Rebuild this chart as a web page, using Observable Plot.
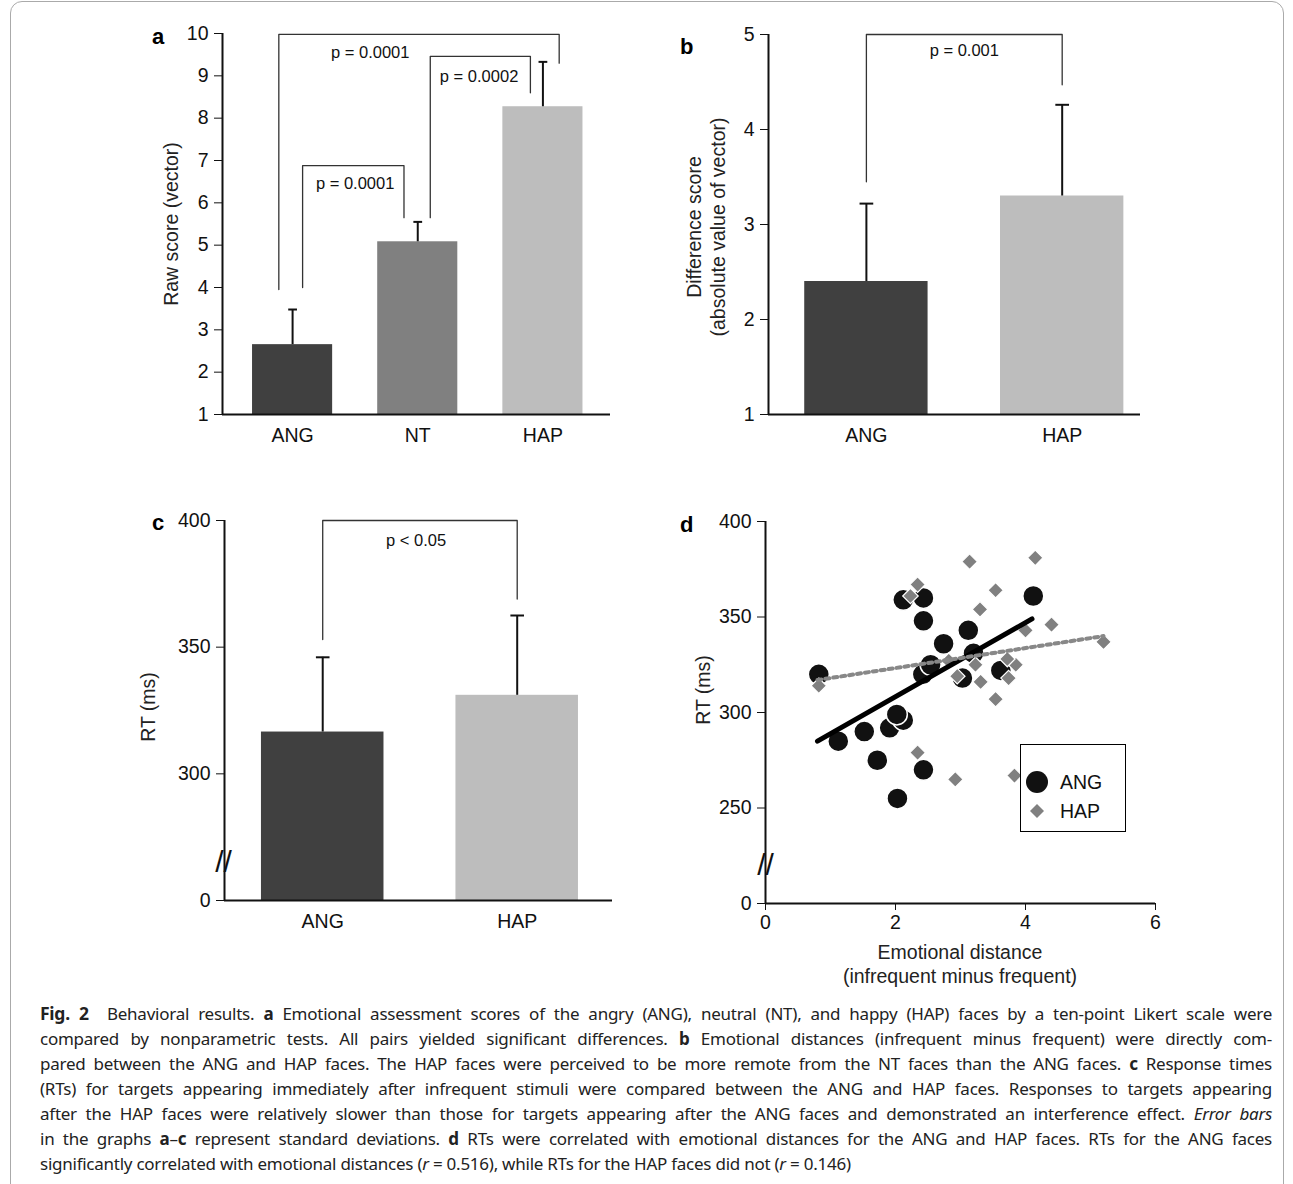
<!DOCTYPE html>
<html>
<head>
<meta charset="utf-8">
<script src="https://cdn.jsdelivr.net/npm/d3@7"></script>
<script src="https://cdn.jsdelivr.net/npm/@observablehq/plot@0.6"></script>
<style>
  body { margin: 0; background: #fff; font-family: "Liberation Sans", Arial, sans-serif; }
  #fig { position: relative; width: 1293px; height: 1184px; overflow: hidden; }
  .panel { position: absolute; }
  .panel svg [aria-label$="tick label"] { font-size: 19.5px; }
  .letter { position: absolute; font-weight: bold; font-size: 22px; }
  .lab { position: absolute; font-size: 19.5px; line-height: 24px; color: #222; text-align: center; white-space: nowrap; }
  #frame { position: absolute; left: 10px; top: 1px; width: 1272px; height: 1240px; border: 1px solid #aaa; border-radius: 12px; }
  #caption { position: absolute; left: 40px; top: 1001px; width: 1232px; font-family: "Noto Sans", sans-serif; font-size: 17px; letter-spacing: -0.25px; line-height: 25px; color: #222; }
  #caption div { text-align: justify; text-align-last: justify; white-space: nowrap; }
  #caption div.last { text-align-last: left; }
  #legend { position: absolute; left: 1020px; top: 744px; width: 104px; height: 86px; border: 1.5px solid #000; background: #fff; }
</style>
</head>
<body>
<div id="fig">
  <div id="frame"></div>
</div>
<script>
// panel a
const catsA = ["ANG", "NT", "HAP"];
const meanA = [2.65, 5.08, 8.27];
const errA = [3.48, 5.55, 9.33];
// panel b
const catsB = ["ANG", "HAP"];
const meanB = [2.4, 3.3];
const errB = [3.22, 4.26];
// panel c
const meanC = [316.5, 331];
const errC = [346, 362.5];
const fills = { ANG: "#404040", NT: "#808080", HAP: "#bdbdbd" };

// brackets: [x, y] corner points
const bracketsA = [
  { p: "p = 0.0001", pts: [[1.08, 4.0], [1.08, 6.88], [1.89, 6.88], [1.89, 5.65]], lx: 1.5, ly: 6.45 },
  { p: "p = 0.0001", pts: [[0.89, 3.95], [0.89, 9.98], [3.13, 9.98], [3.13, 9.3]], lx: 1.62, ly: 9.55 },
  { p: "p = 0.0002", pts: [[2.1, 5.65], [2.1, 9.46], [2.9, 9.46], [2.9, 8.6]], lx: 2.49, ly: 8.97 }
];
const bracketsB = [{ p: "p = 0.001", pts: [[1, 3.45], [1, 5], [2, 5], [2, 4.47]], lx: 1.5, ly: 4.83 }];
const bracketsC = [{ p: "p < 0.05", pts: [[1, 353], [1, 400], [2, 400], [2, 369]], lx: 1.48, ly: 392 }];

// panel d scatter
const angX = [2.03, 2.43, 1.72, 1.12, 1.52, 1.91, 2.12, 2.02, 0.82, 2.42, 2.54, 2.74, 3.12, 2.43, 2.12, 2.43, 4.12, 3.2, 3.03, 3.62];
const angY = [255, 270, 275, 285, 290, 292, 296, 299, 320, 320, 325, 336, 343, 348, 359, 360, 361, 331, 318, 322];
const hapX = [0.82, 2.34, 2.23, 3.14, 4.15, 3.54, 3.3, 4.4, 4.0, 2.82, 3.23, 2.95, 3.31, 3.54, 3.74, 3.85, 3.72, 2.34, 2.92, 3.83, 5.2];
const hapY = [314, 367, 361, 379, 381, 364, 354, 346, 343, 327, 325, 319, 316, 307, 318, 325, 328, 279, 265, 267, 337];
const fitAng = [[0.8, 285], [4.1, 349]];
const fitHap = [[0.8, 317], [5.2, 340]];

const fig = document.getElementById("fig");
const font = "Liberation Sans, Arial, sans-serif";
const style = { fontFamily: font, fontSize: "19px", color: "#111", background: "transparent" };

function place(el, left, top) {
  const d = document.createElement("div");
  d.className = "panel";
  d.style.left = left + "px";
  d.style.top = top + "px";
  d.append(el);
  fig.append(d);
}

function label(html, cx, cy, rotate) {
  const d = document.createElement("div");
  d.className = "lab";
  d.innerHTML = html;
  d.style.left = cx + "px";
  d.style.top = cy + "px";
  d.style.transform = `translate(-50%, -50%)${rotate ? " rotate(-90deg)" : ""}`;
  fig.append(d);
}

function barPanel({ cats, mean, err, brackets, yDomain, yTicks, yFmt, xDomain, half, w, h, m, brk }) {
  const rows = cats.map((c, i) => ({ c, i: i + 1, v: mean[i], e: err[i] }));
  const br = brackets.flatMap((b, k) => b.pts.map(([x, y]) => ({ k, x, y })));
  const marks = [
    Plot.rect(rows, { x1: d => d.i - half, x2: d => d.i + half, y1: yDomain[0], y2: "v", fill: d => fills[d.c] }),
    Plot.ruleX(rows, { x: "i", y1: "v", y2: "e", stroke: "#111", strokeWidth: 2 }),
    Plot.link(rows, { x1: d => d.i - 0.035, x2: d => d.i + 0.035, y1: "e", y2: "e", stroke: "#111", strokeWidth: 2 }),
    Plot.line(br, { x: "x", y: "y", z: "k", stroke: "#333", strokeWidth: 1.3 }),
    Plot.text(brackets, { x: "lx", y: "ly", text: "p", fontSize: 16.5, fill: "#111" }),
    Plot.ruleX([xDomain[0]], { stroke: "#111", strokeWidth: 2 }),
    Plot.ruleY([yDomain[0]], { stroke: "#111", strokeWidth: 2 }),
    Plot.axisY({ ticks: yTicks, tickFormat: yFmt || (d => String(d)), tickSize: 8, tickPadding: 6, label: null }),
    Plot.axisX({ ticks: rows.map(d => d.i), tickFormat: i => cats[i - 1], tickSize: 0, tickPadding: 14, label: null })
  ];
  if (brk != null) marks.push(Plot.text(["//"], { x: xDomain[0], y: brk, fontSize: 30, fill: "#111", dx: -1 }));
  return Plot.plot({
    width: w, height: h, marginLeft: m[0], marginRight: m[1], marginTop: m[2], marginBottom: m[3],
    style, x: { domain: xDomain }, y: { domain: yDomain }, marks
  });
}

place(barPanel({
  cats: catsA, mean: meanA, err: errA, brackets: bracketsA, yDomain: [1, 10], yTicks: d3.range(1, 11),
  xDomain: [0.44, 3.54], half: 0.32, w: 480, h: 444, m: [82, 10, 13, 50]
}), 140, 20);
label("Raw score (vector)", 171, 224, true);

place(barPanel({
  cats: catsB, mean: meanB, err: errB, brackets: bracketsB, yDomain: [1, 5], yTicks: [1, 2, 3, 4, 5],
  xDomain: [0.5, 2.4], half: 0.315, w: 520, h: 444, m: [128, 20, 14, 50]
}), 640, 20);
label("Difference score<br>(absolute value of vector)", 706, 227, true);

place(barPanel({
  cats: catsB, mean: meanC, err: errC, brackets: bracketsC, yDomain: [250, 400], yTicks: [250, 300, 350, 400],
  yFmt: d => d === 250 ? "0" : String(d), xDomain: [0.495, 2.49], half: 0.315, w: 480, h: 445, m: [84, 8, 15, 50], brk: 265
}), 140, 505);
label("RT (ms)", 148, 707, true);

// panel d
const ang = angX.map((x, i) => ({ x, y: angY[i] }));
const hap = hapX.map((x, i) => ({ x, y: hapY[i] }));
place(Plot.plot({
  width: 530, height: 483, marginLeft: 125, marginRight: 15, marginTop: 16, marginBottom: 85,
  style, x: { domain: [0, 6] }, y: { domain: [200, 400] },
  marks: [
    Plot.dot(ang, { x: "x", y: "y", r: 10.5, fill: "#111", stroke: "white", strokeWidth: 1.5 }),
    Plot.dot(hap, { x: "x", y: "y", r: 7, symbol: "diamond2", fill: "#808080", stroke: "white", strokeWidth: 1.2 }),
    Plot.line(fitAng, { x: d => d[0], y: d => d[1], stroke: "#000", strokeWidth: 5 }),
    Plot.line(fitHap, { x: d => d[0], y: d => d[1], stroke: "#888", strokeWidth: 4, strokeDasharray: "4,4" }),
    Plot.ruleX([0], { stroke: "#111", strokeWidth: 2 }),
    Plot.ruleY([200], { stroke: "#111", strokeWidth: 2 }),
    Plot.axisY({ ticks: [200, 250, 300, 350, 400], tickFormat: d => d === 200 ? "0" : String(d), tickSize: 8, tickPadding: 6, label: null }),
    Plot.axisX({ ticks: [0, 2, 4, 6], tickFormat: d => String(d), tickSize: 7, tickPadding: 5, label: null }),
    Plot.text(["//"], { x: 0, y: 220, fontSize: 30, fill: "#111" })
  ]
}), 640, 505);
label("RT (ms)", 703, 690, true);
label("Emotional distance<br>(infrequent minus frequent)", 960, 964, false);

// legend
const lg = document.createElement("div");
lg.id = "legend";
lg.innerHTML = `<svg width="104" height="86" style="position:absolute;left:0;top:0;font-family:${font}">
  <circle cx="16" cy="37" r="11" fill="#111"/>
  <path d="M16 59 l7 7 l-7 7 l-7 -7z" fill="#808080"/>
  <text x="39" y="44" font-size="19.5" fill="#111">ANG</text>
  <text x="39" y="73" font-size="19.5" fill="#111">HAP</text></svg>`;
fig.append(lg);

[["a", 152, 24], ["b", 680, 34], ["c", 152, 510], ["d", 680, 512]].forEach(([t, x, y]) => {
  const s = document.createElement("div");
  s.className = "letter"; s.textContent = t; s.style.left = x + "px"; s.style.top = y + "px";
  fig.append(s);
});

const cap = document.createElement("div");
cap.id = "caption";
cap.innerHTML = [
  `<b style="font-size:17.5px">Fig. 2</b>&nbsp; Behavioral results. <b>a</b> Emotional assessment scores of the angry (ANG), neutral (NT), and happy (HAP) faces by a ten-point Likert scale were`,
  `compared by nonparametric tests. All pairs yielded significant differences. <b>b</b> Emotional distances (infrequent minus frequent) were directly com-`,
  `pared between the ANG and HAP faces. The HAP faces were perceived to be more remote from the NT faces than the ANG faces. <b>c</b> Response times`,
  `(RTs) for targets appearing immediately after infrequent stimuli were compared between the ANG and HAP faces. Responses to targets appearing`,
  `after the HAP faces were relatively slower than those for targets appearing after the ANG faces and demonstrated an interference effect. <i>Error bars</i>`,
  `in the graphs <b>a</b>–<b>c</b> represent standard deviations. <b>d</b> RTs were correlated with emotional distances for the ANG and HAP faces. RTs for the ANG faces`,
  `significantly correlated with emotional distances (<i>r</i> = 0.516), while RTs for the HAP faces did not (<i>r</i> = 0.146)`
].map((l, i, a) => `<div class="${i === a.length - 1 ? "last" : ""}">${l}</div>`).join("");
fig.append(cap);
</script>
</body>
</html>
